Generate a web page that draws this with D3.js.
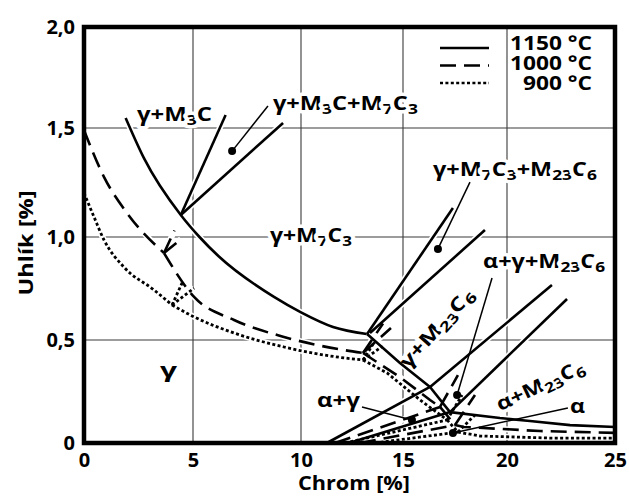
<!DOCTYPE html>
<html>
<head>
<meta charset="utf-8">
<script src="https://cdn.jsdelivr.net/npm/d3@7"></script>
<style>
  body { margin: 0; background: #fff; }
  svg text { font-family: "Open Sans", sans-serif; font-weight: bold; fill: #000; }
</style>
</head>
<body>
<svg id="chart" width="629" height="497"></svg>
<script>
// axis ticks
var xTicks = [0, 5, 10, 15, 20, 25];
var xTickLabels = ["0", "5", "10", "15", "20", "25"];
var yTicks = [0, 0.5, 1, 1.5, 2];
var yTickLabels = ["0", "0,5", "1,0", "1,5", "2,0"];

// 1150 °C (solid) - [Cr %, C %]
var gamma1150 = [[1.91,1.55],[2.75,1.362],[4.44,1.101],[5.3,1.0],[6.2,0.905],[8.75,0.709],[10.0,0.634],[11.57,0.563],[13.22,0.529]];
var m3cA1150 = [[4.44,1.101],[6.51,1.564]];
var m3cB1150 = [[4.44,1.101],[9.17,1.525]];
var m7cA1150 = [[13.24,0.529],[17.4,1.133]];
var m7cB1150 = [[13.38,0.534],[18.94,1.032]];
var m23g1150 = [[13.24,0.529],[14.85,0.388],[16.3,0.272]];
var tie1150 = [[16.3,0.272],[17.26,0.15]];
var ag1150 = [[11.27,0],[16.3,0.272]];
var aa1150 = [[12.35,0],[17.26,0.15]];
var l1_1150 = [[16.3,0.272],[22.08,0.767]];
var l2_1150 = [[17.26,0.15],[22.78,0.699]];
var alpha1150 = [[17.26,0.15],[19.66,0.121],[21.06,0.107],[22.92,0.087],[25,0.078]];

// 1000 °C (dashed)
var gamma1000a = [[0,1.49],[0.92,1.275],[1.97,1.11],[3.67,0.922]];
var gamma1000b = [[3.67,0.922],[5.05,0.709],[6.9,0.597],[9.21,0.515],[12.11,0.451],[13.04,0.437]];
var stubA1000 = [[3.67,0.922],[4.45,0.99]];
var stubB1000 = [[3.67,0.922],[4.15,1.03]];
var stubC1000 = [[13.04,0.437],[14.02,0.58]];
var stubD1000 = [[13.04,0.437],[14.41,0.558]];
var m23g1000 = [[13.04,0.437],[14.85,0.32],[16.3,0.209],[16.78,0.175]];
var tie1000 = [[16.78,0.175],[17.5,0.087]];
var ag1000 = [[11.67,0],[16.78,0.175]];
var aa1000 = [[12.89,0],[17.5,0.087]];
var l1_1000 = [[16.78,0.175],[17.64,0.33]];
var l2_1000 = [[17.5,0.087],[18.46,0.233]];
var alpha1000 = [[17.5,0.087],[17.93,0.078],[21.53,0.058],[25,0.049]];

// 900 °C (dotted)
var gamma900a = [[0,1.202],[0.46,1.092],[0.92,0.985],[1.83,0.854],[3.21,0.743],[4.04,0.67]];
var gamma900b = [[4.04,0.67],[5.05,0.612],[6.9,0.534],[9.21,0.466],[12.11,0.413],[13.04,0.403]];
var stubA900 = [[4.04,0.67],[4.5,0.777]];
var stubB900 = [[4.04,0.67],[5.05,0.752]];
var stubC900 = [[13.04,0.403],[13.6,0.49]];
var stubD900 = [[13.04,0.403],[14.0,0.47]];
var m23g900 = [[13.04,0.403],[14.22,0.34],[15.82,0.209],[17.12,0.112]];
var tie900 = [[17.12,0.112],[17.64,0.053]];
var ag900 = [[12.16,0],[17.12,0.112]];
var aa900 = [[13.63,0],[17.64,0.053]];
var l1_900 = [[17.12,0.112],[17.84,0.233]];
var l2_900 = [[17.64,0.053],[18.46,0.136]];
var alpha900 = [[17.64,0.053],[18.7,0.034],[21.99,0.024],[25,0.024]];

// phase field marks: dot and where its leader starts
var dotPoints = [[6.81,1.394],[16.68,0.942],[17.6,0.233],[15.43,0.112],[17.4,0.049]];
var leaderStarts = [[8.47,1.609],[18.22,1.252],[19.28,0.801],[12.99,0.175],[22.82,0.17]];

var phaseLabels = ["γ+M3C", "γ+M3C+M7C3", "γ+M7C3", "γ+M7C3+M23C6", "α+γ+M23C6", "α+γ", "α", "γ", "γ+M23C6", "α+M23C6"];
var legendNames = ["1150 °C", "1000 °C", "900 °C"];

var svg = d3.select("#chart");

var x = d3.scaleLinear().domain(xTicks).range([84, 193, 301, 403, 507, 615]);
var y = d3.scaleLinear().domain(yTicks).range([443, 340, 237, 128, 27]);

// grid
var grid = svg.append("g").attr("class", "grid");
grid.selectAll(".vgrid")
  .data(xTicks.slice(1, -1))
  .enter().append("line")
    .attr("x1", function(d) { return x(d); })
    .attr("x2", function(d) { return x(d); })
    .attr("y1", y(0)).attr("y2", y(2))
    .attr("stroke", "#3a3a3a").attr("stroke-width", 1.1);
grid.selectAll(".hgrid")
  .data(yTicks.slice(1, -1))
  .enter().append("line")
    .attr("y1", function(d) { return y(d); })
    .attr("y2", function(d) { return y(d); })
    .attr("x1", x(0)).attr("x2", x(25))
    .attr("stroke", "#3a3a3a").attr("stroke-width", 1.1);

var line = d3.line().x(function(d) { return x(d[0]); }).y(function(d) { return y(d[1]); });
var smooth = d3.line().x(function(d) { return x(d[0]); }).y(function(d) { return y(d[1]); })
  .curve(d3.curveMonotoneX);

var sets = [
  { dash: null, width: 2.6, smooth: [gamma1150], straight: [m3cA1150, m3cB1150, m7cA1150, m7cB1150, m23g1150, tie1150, ag1150, aa1150, l1_1150, l2_1150, alpha1150] },
  { dash: "16,8", width: 2.6, smooth: [gamma1000a, gamma1000b], straight: [stubA1000, stubB1000, stubC1000, stubD1000, m23g1000, tie1000, ag1000, aa1000, l1_1000, l2_1000, alpha1000] },
  { dash: "3,2.4", width: 2.8, smooth: [gamma900a, gamma900b], straight: [stubA900, stubB900, stubC900, stubD900, m23g900, tie900, ag900, aa900, l1_900, l2_900, alpha900] }
];

// white casing so the grid breaks where curves cross it
var casing = svg.append("g");
sets.forEach(function(s) {
  s.smooth.forEach(function(c) {
    casing.append("path").attr("d", smooth(c)).attr("fill", "none").attr("stroke", "#fff").attr("stroke-width", 6);
  });
  s.straight.forEach(function(c) {
    casing.append("path").attr("d", line(c)).attr("fill", "none").attr("stroke", "#fff").attr("stroke-width", 6);
  });
});

// label helper: digits are subscripts
function writeLabel(t, str, fs) {
  var parts = str.split(/(\d+)/), shift = 0;
  parts.forEach(function(p) {
    if (!p) return;
    var ts = t.append("tspan").text(p);
    if (/^\d+$/.test(p)) {
      ts.attr("font-size", fs * 0.74).attr("dy", fs * 0.22 - shift);
      shift = fs * 0.22;
    } else {
      ts.attr("dy", -shift);
      shift = 0;
    }
  });
}

var labelSpec = [
  { at: [2.43, 1.535], len: 75 },
  { at: [8.7, 1.589], len: 145 },
  { at: [8.56, 0.976], len: 82 },
  { at: [16.44, 1.28], len: 164 },
  { at: [18.85, 0.85], len: 122 },
  { at: [10.78, 0.175], len: 43 },
  { at: [22.92, 0.146], len: 15 },
  { at: [3.49, 0.32], len: 17 },
  { at: [16.6, 0.56], len: 100, rot: -48, mid: true },
  { at: [21.53, 0.282], len: 95, rot: -25, mid: true }
];

var labels = svg.append("g");
phaseLabels.forEach(function(name, i) {
  var s = labelSpec[i];
  var px = x(s.at[0]), py = y(s.at[1]);
  var t = labels.append("text")
    .attr("x", 0).attr("y", 0)
    .attr("font-size", 19)
    .attr("stroke", "#fff").attr("stroke-width", 7)
    .attr("stroke-linejoin", "round")
    .style("paint-order", "stroke")
    .attr("textLength", s.len)
    .attr("lengthAdjust", "spacingAndGlyphs")
    .attr("transform", "translate(" + px + "," + py + ")" + (s.rot ? " rotate(" + s.rot + ")" : ""));
  if (s.mid) t.attr("x", -s.len / 2).attr("y", 7);
  writeLabel(t, name, 19);
});

// leaders + dots
var marks = svg.append("g");
dotPoints.forEach(function(d, i) {
  marks.append("line")
    .attr("x1", x(leaderStarts[i][0])).attr("y1", y(leaderStarts[i][1]))
    .attr("x2", x(d[0])).attr("y2", y(d[1]))
    .attr("stroke", "#000").attr("stroke-width", 1.5);
});
marks.selectAll("circle")
  .data(dotPoints)
  .enter().append("circle")
    .attr("cx", function(d) { return x(d[0]); })
    .attr("cy", function(d) { return y(d[1]); })
    .attr("r", 4);

// curves
var curves = svg.append("g");
sets.forEach(function(s) {
  s.smooth.forEach(function(c) {
    curves.append("path").attr("d", smooth(c)).attr("fill", "none")
      .attr("stroke", "#000").attr("stroke-width", s.width).attr("stroke-dasharray", s.dash);
  });
  s.straight.forEach(function(c) {
    curves.append("path").attr("d", line(c)).attr("fill", "none")
      .attr("stroke", "#000").attr("stroke-width", s.width).attr("stroke-dasharray", s.dash);
  });
});

// legend
var legend = svg.append("g");
var legendDash = [null, "16,8", "3,2.4"];
legendNames.forEach(function(n, i) {
  legend.append("line")
    .attr("x1", 440).attr("x2", 489)
    .attr("y1", 48 + i * 17.5).attr("y2", 48 + i * 17.5)
    .attr("stroke", "#000").attr("stroke-width", i == 2 ? 2.4 : 2.6)
    .attr("stroke-dasharray", legendDash[i]);
  legend.append("text")
    .attr("x", 592).attr("y", 50 + i * 20)
    .attr("text-anchor", "end")
    .attr("font-size", 20)
    .attr("textLength", i == 2 ? 69 : 82)
    .attr("lengthAdjust", "spacingAndGlyphs")
    .text(n);
});

// axes (labels only, frame drawn separately)
var xAxis = svg.append("g")
  .attr("transform", "translate(0," + y(0) + ")")
  .call(d3.axisBottom(x).tickValues(xTicks).tickSize(0).tickPadding(10)
    .tickFormat(function(d, i) { return xTickLabels[i]; }));
var yAxis = svg.append("g")
  .attr("transform", "translate(" + x(0) + ",0)")
  .call(d3.axisLeft(y).tickValues(yTicks).tickSize(0).tickPadding(9)
    .tickFormat(function(d, i) { return yTickLabels[i]; }));
[xAxis, yAxis].forEach(function(a) {
  a.select(".domain").remove();
  a.selectAll("text").attr("font-size", 20).attr("font-family", null).attr("fill", "#000");
});

svg.append("rect")
  .attr("x", x(0)).attr("y", y(2))
  .attr("width", x(25) - x(0)).attr("height", y(0) - y(2))
  .attr("fill", "none").attr("stroke", "#000").attr("stroke-width", 4.5);

svg.append("text")
  .attr("x", 354).attr("y", 490)
  .attr("text-anchor", "middle")
  .attr("font-size", 20)
  .attr("textLength", 112)
  .attr("lengthAdjust", "spacingAndGlyphs")
  .text("Chrom [%]");

svg.append("text")
  .attr("transform", "translate(33,243) rotate(-90)")
  .attr("text-anchor", "middle")
  .attr("font-size", 20)
  .attr("textLength", 105)
  .attr("lengthAdjust", "spacingAndGlyphs")
  .text("Uhlík [%]");
</script>
</body>
</html>
